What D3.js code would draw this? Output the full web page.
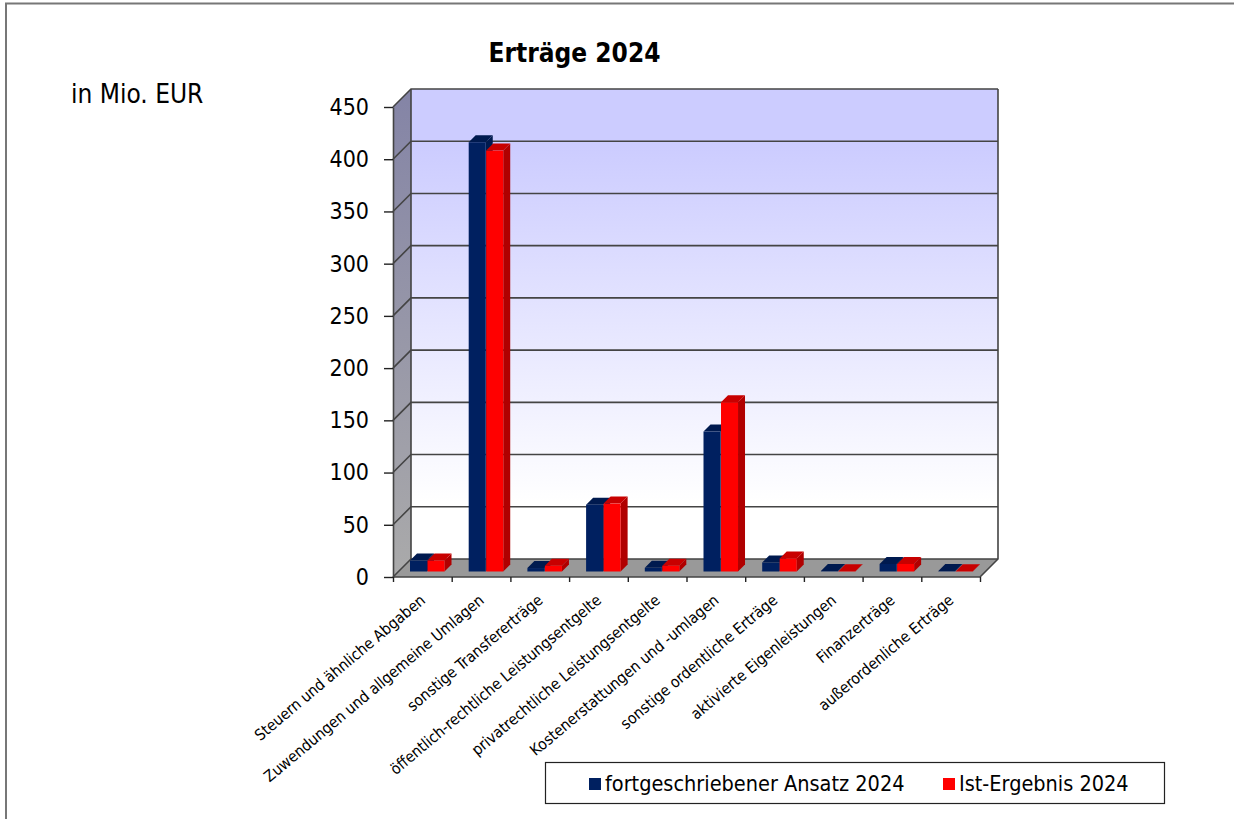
<!DOCTYPE html>
<html>
<head>
<meta charset="utf-8">
<script src="https://cdn.jsdelivr.net/npm/d3@7"></script>
<style>
  html, body { margin: 0; padding: 0; background: #fff; }
  svg { display: block; }
  text { font-family: "DejaVu Sans Condensed", "DejaVu Sans", sans-serif; fill: #000; }
</style>
</head>
<body>
<div id="chart"></div>
<script>
const categories = [
  "Steuern und ähnliche Abgaben",
  "Zuwendungen und allgemeine Umlagen",
  "sonstige Transfererträge",
  "öffentlich-rechtliche Leistungsentgelte",
  "privatrechtliche Leistungsentgelte",
  "Kostenerstattungen und -umlagen",
  "sonstige ordentliche Erträge",
  "aktivierte Eigenleistungen",
  "Finanzerträge",
  "außerordenliche Erträge"
];
const ansatz = [10.5, 411, 3.3, 64, 3.5, 134, 8.6, 0.4, 7.2, 0.4];
const ist = [10.5, 403, 5.5, 65, 5.5, 162, 12.5, 0.3, 7.2, 0.3];
const yTicks = [0, 50, 100, 150, 200, 250, 300, 350, 400, 450];
const seriesNames = ["fortgeschriebener Ansatz 2024", "Ist-Ergebnis 2024"];

const width = 1234, height = 819;
const plotLeft = 393, plotRight = 980, plotTop = 107, plotBottom = 577;
const depth = 18;      // Versatz der Rückwand
const barDepth = 7;
const barInset = 5.5;  // Abstand der Säulen von der Vorderkante

const svg = d3.select("#chart").append("svg")
  .attr("width", width)
  .attr("height", height);

const x = d3.scaleBand().domain(d3.range(categories.length)).range([plotLeft, plotRight]);
const y = d3.scaleLinear().domain([0, 450]).range([plotBottom, plotTop]);
const tickX = d3.scaleLinear().domain([0, categories.length]).range([plotLeft, plotRight]);

// Verläufe
const defs = svg.append("defs");
const backGrad = defs.append("linearGradient").attr("id", "backWall")
  .attr("x1", 0).attr("y1", 0).attr("x2", 0).attr("y2", 1);
backGrad.append("stop").attr("offset", "0%").attr("stop-color", "#ccccff");
backGrad.append("stop").attr("offset", "12%").attr("stop-color", "#ccccff");
backGrad.append("stop").attr("offset", "88%").attr("stop-color", "#ffffff");
const sideGrad = defs.append("linearGradient").attr("id", "sideWall")
  .attr("x1", 0).attr("y1", 0).attr("x2", 0).attr("y2", 1);
sideGrad.append("stop").attr("offset", "0%").attr("stop-color", "#8484a6");
sideGrad.append("stop").attr("offset", "100%").attr("stop-color", "#aaaaaa");

// Rahmen
svg.append("path")
  .attr("d", `M6,819V3.5H${width}`)
  .attr("fill", "none")
  .attr("stroke", "#777")
  .attr("stroke-width", 2);

// Rückwand, Seitenwand, Boden
const poly = pts => "M" + pts.map(p => p.join(",")).join("L") + "Z";

svg.append("rect")
  .attr("x", plotLeft + depth).attr("y", plotTop - depth)
  .attr("width", plotRight - plotLeft).attr("height", plotBottom - plotTop)
  .attr("fill", "url(#backWall)");

svg.append("path")
  .attr("d", poly([[plotLeft, plotTop], [plotLeft + depth, plotTop - depth], [plotLeft + depth, plotBottom - depth], [plotLeft, plotBottom]]))
  .attr("fill", "url(#sideWall)");

svg.append("path")
  .attr("d", poly([[plotLeft, plotBottom], [plotLeft + depth, plotBottom - depth], [plotRight + depth, plotBottom - depth], [plotRight, plotBottom]]))
  .attr("fill", "#999999");

// Gitterlinien
const grid = svg.append("g").attr("fill", "none").attr("stroke", "#444").attr("stroke-width", 1.6);
grid.selectAll("path").data(yTicks).enter().append("path")
  .attr("d", d => `M${plotLeft},${y(d)}L${plotLeft + depth},${y(d) - depth}H${plotRight + depth}`);
grid.append("path")
  .attr("d", `M${plotLeft + depth},${plotTop - depth}V${plotBottom - depth}M${plotRight + depth},${plotTop - depth}V${plotBottom - depth}L${plotRight},${plotBottom}H${plotLeft}`);

// Säulen
function drawBars(values, offset, cFront, cTop, cSide) {
  const g = svg.append("g");
  const bars = g.selectAll("g").data(values).enter().append("g");
  const bx = (d, i) => x(i) + offset;
  const w = x.bandwidth() * 0.29;
  bars.append("path").attr("fill", cSide)
    .attr("d", (d, i) => {
      const x1 = bx(d, i) + w, y0 = y(0) - barInset, y1 = y(d) - barInset;
      return poly([[x1, y0], [x1 + barDepth, y0 - barDepth], [x1 + barDepth, y1 - barDepth], [x1, y1]]);
    });
  bars.append("path").attr("fill", cTop)
    .attr("d", (d, i) => {
      const x0 = bx(d, i), y1 = y(d) - barInset;
      return poly([[x0, y1], [x0 + barDepth, y1 - barDepth], [x0 + w + barDepth, y1 - barDepth], [x0 + w, y1]]);
    });
  bars.append("rect").attr("fill", cFront)
    .attr("x", bx)
    .attr("y", d => y(d) - barInset)
    .attr("width", w)
    .attr("height", d => y(0) - y(d));
}
drawBars(ansatz, 17, "#002060", "#001a4f", "#001a4f");
drawBars(ist, 34.5, "#ff0000", "#c80000", "#b00000");

// Achsen
const yAxis = svg.append("g")
  .attr("transform", `translate(${plotLeft},0)`)
  .call(d3.axisLeft(y).tickValues(yTicks).tickSize(9).tickSizeOuter(0).tickPadding(15));
yAxis.select(".domain").attr("stroke", "#444").attr("stroke-width", 1.6);
yAxis.selectAll("line").attr("stroke", "#222").attr("stroke-width", 1.4);
yAxis.selectAll("text").style("font-size", "23px").attr("fill", "#000");

const xAxis = svg.append("g")
  .attr("transform", `translate(0,${plotBottom})`)
  .call(d3.axisBottom(tickX).tickValues(d3.range(categories.length + 1)).tickSize(5).tickFormat(""));
xAxis.select(".domain").remove();
xAxis.selectAll("line").attr("stroke", "#222").attr("stroke-width", 1.4);

svg.append("g").selectAll("text").data(categories).enter().append("text")
  .attr("text-anchor", "end")
  .attr("transform", (d, i) => `translate(${x(i) + x.bandwidth() / 2 + 4},602) rotate(-40)`)
  .style("font-size", "15.6px")
  .text(d => d);

// Titel
svg.append("text")
  .attr("x", 574.5).attr("y", 62)
  .attr("text-anchor", "middle")
  .style("font-size", "26px").style("font-weight", "bold")
  .text("Erträge 2024");

svg.append("text")
  .attr("x", 71).attr("y", 103)
  .style("font-size", "26px")
  .text("in Mio. EUR");

// Legende
svg.append("rect")
  .attr("x", 545.5).attr("y", 762.5)
  .attr("width", 619).attr("height", 41)
  .attr("fill", "#fff").attr("stroke", "#222").attr("stroke-width", 1.2);

const legendX = [589, 943];
const legendColors = ["#002060", "#ff0000"];
const legend = svg.append("g").selectAll("g").data(seriesNames).enter().append("g")
  .attr("transform", (d, i) => `translate(${legendX[i]},778)`);
legend.append("rect").attr("width", 12).attr("height", 12).attr("fill", (d, i) => legendColors[i]);
legend.append("text")
  .attr("x", 16).attr("y", 13)
  .style("font-size", "21.5px")
  .text(d => d);
</script>
</body>
</html>
